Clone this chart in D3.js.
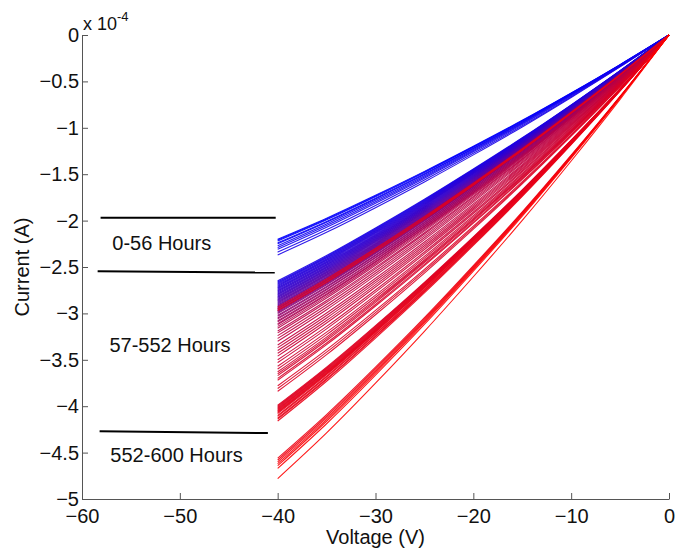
<!doctype html>
<html>
<head>
  <meta charset="utf-8">
  <title>Current vs voltage over time</title>
  <script src="https://cdnjs.cloudflare.com/ajax/libs/d3/7.8.5/d3.min.js"></script>
  <style>
  body { margin: 0; background: #fff; }
  svg { font-family: "Liberation Sans", Arial, sans-serif; }
  .curve { fill: none; stroke-width: 1.1px; stroke-opacity: 0.9; }
  .axis path, .axis line { stroke: #555; }
  .axis text { font-size: 20px; fill: #111; }
  .label { font-size: 20px; fill: #111; }
  .sep { stroke: #000; stroke-width: 2px; }
  </style>
</head>
<body>
  <script>
  // voltage sweep points and normalised I-V profile
  var voltages = [0, -5, -10, -15, -20, -25, -30, -35, -40];
  var profile = [0, 0.145, 0.284, 0.418, 0.545, 0.668, 0.785, 0.897, 1];

  // hour of each sweep and current at -40 V (x 1e-4 A)
  var curveHours = [
    0, 6, 12, 18, 24, 30, 36, 42, 49, 56,
    57, 62, 67, 72, 77, 82, 87, 92, 97, 102, 107, 112, 117, 122, 127, 132,
    140, 150, 160, 170, 180, 190, 200, 210, 220, 230, 240, 250, 260, 270, 280, 290, 300, 310,
    530, 535, 540,
    320, 330, 340, 350, 360, 370, 380, 390, 400, 410, 420, 430,
    434, 438, 442, 446, 450, 454, 458, 462, 466, 470, 474, 478, 482, 486, 490, 494, 498, 502, 506, 510, 514, 518,
    520, 522, 524, 526, 528, 531, 533, 536, 538, 541, 543, 545, 546, 547, 548,
    556, 564, 572, 580, 588, 594, 600
  ];
  var curveEnd = [
    -2.20, -2.21, -2.22, -2.24, -2.25, -2.27, -2.29, -2.31, -2.34, -2.37,
    -2.65, -2.66, -2.67, -2.68, -2.69, -2.70, -2.71, -2.72, -2.73, -2.74, -2.75, -2.76, -2.77, -2.78, -2.79, -2.80,
    -2.81, -2.82, -2.83, -2.84, -2.85, -2.86, -2.87, -2.88, -2.89, -2.90, -2.91, -2.92, -2.93, -2.94, -2.95, -2.96, -2.97, -2.98,
    -2.93, -2.95, -2.97,
    -2.99, -3.00, -3.02, -3.03, -3.05, -3.06, -3.08, -3.09, -3.11, -3.12, -3.14, -3.16,
    -3.19, -3.21, -3.24, -3.27, -3.30, -3.34, -3.37, -3.40, -3.43, -3.46, -3.50, -3.53, -3.57, -3.60, -3.63, -3.65, -3.67, -3.70, -3.72, -3.78, -3.81, -3.84,
    -3.99, -4.00, -4.01, -4.02, -4.03, -4.04, -4.05, -4.06, -4.07, -4.08, -4.10, -4.11, -4.13, -4.14, -4.16,
    -4.56, -4.58, -4.60, -4.62, -4.64, -4.67, -4.78
  ];

  // separator lines and group labels (data units)
  var sepLines = [
    [[-58.1, -1.97], [-40.2, -1.97]],
    [[-58.4, -2.545], [-40.3, -2.56]],
    [[-58.2, -4.27], [-41.0, -4.29]]
  ];
  var groupLabels = ["0-56 Hours", "57-552 Hours", "552-600 Hours"];
  var labelV = [-56.9, -57.2, -57.1];
  var labelI = [-2.32, -3.42, -4.60];

  var xTicks = [-60, -50, -40, -30, -20, -10, 0];
  var yTicks = [-5, -4.5, -4, -3.5, -3, -2.5, -2, -1.5, -1, -0.5, 0];

  var W = 695, H = 553,
    margin = {top: 35, right: 26, bottom: 54, left: 82},
    width = W - margin.left - margin.right,
    height = H - margin.top - margin.bottom;

  var svg = d3.select("body").append("svg")
      .attr("width", W)
      .attr("height", H)
    .append("g")
      .attr("transform", "translate(" + margin.left + "," + margin.top + ")");

  var x = d3.scaleLinear().domain([-60, 0]).range([0, width]);
  var y = d3.scaleLinear().domain([-5, 0]).range([height, 0]);
  var color = d3.scaleLinear().domain([0, 600]).range(["#0000ff", "#ff0000"]);

  var line = d3.line()
      .x(function(d) { return x(d[0]); })
      .y(function(d) { return y(d[1]); })
      .curve(d3.curveNatural);

  var curves = curveHours.map(function(h, i) {
    return {
      hour: h,
      pts: voltages.map(function(v, j) { return [v, curveEnd[i] * profile[j]]; })
    };
  }).sort(function(a, b) { return a.hour - b.hour; });

  svg.append("g")
    .selectAll("path")
    .data(curves)
    .join("path")
      .attr("class", "curve")
      .attr("stroke", function(d) { return color(d.hour); })
      .attr("d", function(d) { return line(d.pts); });

  svg.append("g")
    .attr("class", "x axis")
    .attr("transform", "translate(0," + height + ")")
    .call(d3.axisBottom(x).tickValues(xTicks).tickSizeInner(-6).tickSizeOuter(0).tickPadding(10));

  svg.append("g")
    .attr("class", "y axis")
    .call(d3.axisLeft(y).tickValues(yTicks).tickSizeInner(-6).tickSizeOuter(0).tickPadding(3)
      .tickFormat(d3.format("")));

  svg.selectAll(".axis .domain").attr("stroke", "#555");

  svg.selectAll(".sep")
    .data(sepLines)
    .join("path")
      .attr("class", "sep")
      .attr("d", d3.line().x(function(d) { return x(d[0]); }).y(function(d) { return y(d[1]); }));

  svg.selectAll(".grp")
    .data(groupLabels)
    .join("text")
      .attr("class", "label grp")
      .attr("x", function(d, i) { return x(labelV[i]); })
      .attr("y", function(d, i) { return y(labelI[i]); })
      .text(function(d) { return d; });

  // axis titles
  svg.append("text")
    .attr("class", "label")
    .attr("x", width / 2)
    .attr("y", height + 45)
    .style("text-anchor", "middle")
    .text("Voltage (V)");

  svg.append("text")
    .attr("class", "label")
    .attr("transform", "rotate(-90)")
    .attr("x", -height / 2)
    .attr("y", -53)
    .style("text-anchor", "middle")
    .text("Current (A)");

  // exponent marker
  var expo = svg.append("text")
    .attr("class", "label")
    .attr("x", 1)
    .attr("y", -5)
    .style("font-size", "18px");
  expo.append("tspan").text("x 10");
  expo.append("tspan").attr("dy", -9).style("font-size", "13px").text("-4");
  </script>
</body>
</html>
